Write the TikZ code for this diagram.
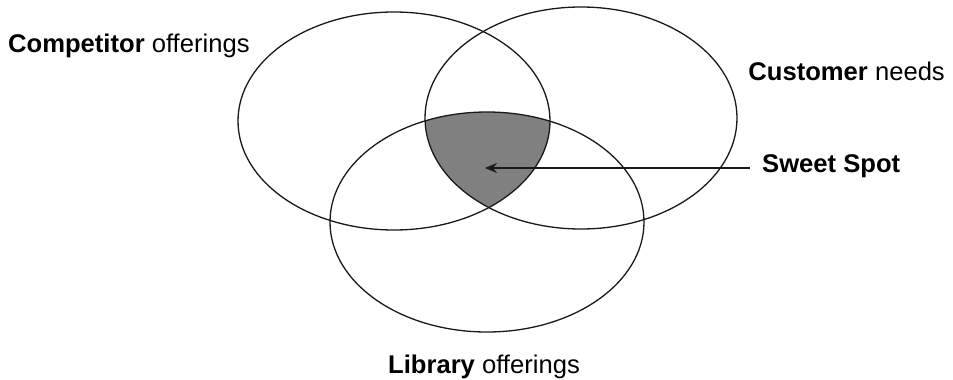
\documentclass[tikz,border=0pt]{standalone}
\usepackage{fontspec}
\setmainfont{Liberation Sans}
\usetikzlibrary{arrows.meta}
\begin{document}
\begin{tikzpicture}[x=1pt,y=-1pt,
  lbl/.style={font=\fontsize{25.6}{30}\selectfont, inner sep=0pt, text=black},
  venn/.style={draw=black!90, line width=1.3pt},
  sweetfill/.style={fill=black!50},
  pointer/.style={draw=black!90, line width=1.6pt, -{Stealth[length=12pt,width=10pt]}}]
\useasboundingbox (0,0) rectangle (953,380);
\coordinate (cA) at (394,121);
\coordinate (cB) at (581,118);
\coordinate (cC) at (487,222);
\begin{scope}
  \clip (cA) ellipse [x radius=156, y radius=109];
  \clip (cB) ellipse [x radius=156, y radius=111];
  \path[sweetfill] (cC) ellipse [x radius=157, y radius=110];
\end{scope}
\draw[venn] (cA) ellipse [x radius=156, y radius=109];
\draw[venn] (cB) ellipse [x radius=156, y radius=111];
\draw[venn] (cC) ellipse [x radius=157, y radius=110];
\node[lbl, anchor=base west] (comp) at (8,52) {\textbf{Competitor} offerings};
\node[lbl, anchor=base east] (cust) at (945,80) {\textbf{Customer} needs};
\node[lbl, anchor=base west] (sweet) at (762,172) {\textbf{Sweet Spot}};
\node[lbl, anchor=base] (lib) at (484,373) {\textbf{Library} offerings};
\coordinate (tail) at (750,168);
\coordinate (tip) at (485,168);
\draw[pointer] (tail) -- (tip);
\end{tikzpicture}
\end{document}
